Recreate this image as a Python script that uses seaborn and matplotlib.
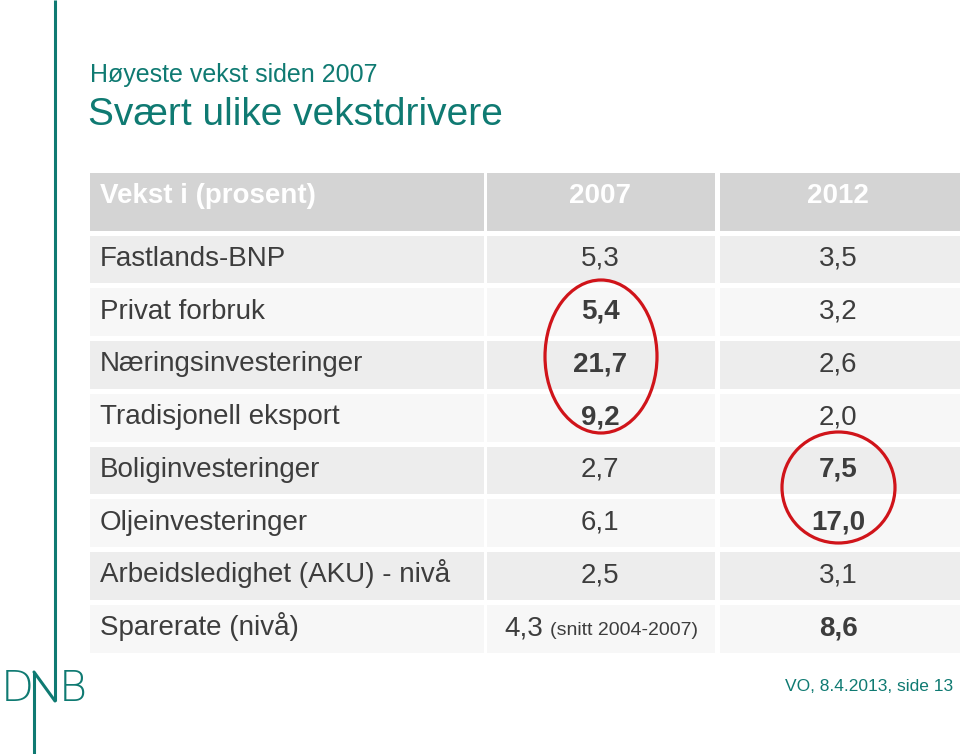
import numpy as np
import matplotlib
matplotlib.use("Agg")
import matplotlib.pyplot as plt
from matplotlib.colors import ListedColormap
from matplotlib.patches import Ellipse
import seaborn as sns

# table content
header = ["Vekst i (prosent)", "2007", "2012"]
categories = ["Fastlands-BNP", "Privat forbruk", "Næringsinvesteringer",
              "Tradisjonell eksport", "Boliginvesteringer", "Oljeinvesteringer",
              "Arbeidsledighet (AKU) - nivå", "Sparerate (nivå)"]
vals_2007 = [5.3, 5.4, 21.7, 9.2, 2.7, 6.1, 2.5, 4.3]
vals_2012 = [3.5, 3.2, 2.6, 2.0, 7.5, 17.0, 3.1, 8.6]
bold_2007 = [False, True, True, True, False, False, False, False]
bold_2012 = [False, False, False, False, True, True, False, True]
note_2007_last = "(snitt 2004-2007)"

subtitle = "Høyeste vekst siden 2007"
title = "Svært ulike vekstdrivere"
footer = "VO, 8.4.2013, side 13"

teal = "#0f7a72"
text_col = "#3d3d3d"
red = "#d0141a"

sns.set_style("white")
plt.rcParams["font.family"] = ["Liberation Sans", "DejaVu Sans"]

W, H = 960, 754
fig = plt.figure(figsize=(9.6, 7.54), dpi=100)


def px_axes(x0, y0, x1, y1):
    return fig.add_axes([x0 / W, 1 - y1 / H, (x1 - x0) / W, (y1 - y0) / H])


def fmt(v):
    return f"{v:.1f}".replace(".", ",")


# column extents (pixels) and row layout
col_edges = [(86.5, 485.5), (484.5, 716.5), (716.5, 972)]
head_top, head_bot = 170.5, 232.5
body_top, row_h = 232.5, 52.75
n = len(categories)
body_bot = body_top + row_h * n

shade = np.array([[i % 2] for i in range(n)], dtype=float)
body_cmap = ListedColormap(["#ededed", "#f7f7f7"])
head_cmap = ListedColormap(["#d4d4d4"])

for x0, x1 in col_edges:
    axh = px_axes(x0, head_top, x1, head_bot)
    sns.heatmap(np.zeros((1, 1)), ax=axh, cmap=head_cmap, cbar=False,
                linewidths=2.2, linecolor="white", xticklabels=False,
                yticklabels=False, vmin=0, vmax=1)
    axh.axis("off")
    axb = px_axes(x0, body_top, x1, body_bot)
    sns.heatmap(shade, ax=axb, cmap=body_cmap, cbar=False,
                linewidths=2.2, linecolor="white", xticklabels=False,
                yticklabels=False, vmin=0, vmax=1)
    axb.axis("off")

# overlay axis in pixel coordinates
ax = fig.add_axes([0, 0, 1, 1])
ax.set_xlim(0, W)
ax.set_ylim(H, 0)
ax.axis("off")
ax.patch.set_alpha(0)

# titles
ax.text(90, 82, subtitle, fontsize=18, color=teal, va="baseline")
ax.text(88, 125, title, fontsize=28, color=teal, va="baseline")

# header text
c2, c3 = 600, 838
ax.text(100, 203, header[0], fontsize=20, color="white", weight="bold", va="baseline")
ax.text(c2, 203, header[1], fontsize=20, color="white", weight="bold", va="baseline", ha="center")
ax.text(c3, 203, header[2], fontsize=20, color="white", weight="bold", va="baseline", ha="center")

# body text
for i, cat in enumerate(categories):
    yb = body_top + row_h * (i + 0.5) + 7
    ax.text(100, yb, cat, fontsize=20, color=text_col, va="baseline")
    if i == n - 1:
        ax.text(543, yb, fmt(vals_2007[i]), fontsize=20, color=text_col,
                va="baseline", ha="right",
                weight="bold" if bold_2007[i] else "normal")
        ax.text(550, yb, note_2007_last, fontsize=14, color=text_col,
                va="baseline", ha="left")
    else:
        ax.text(c2, yb, fmt(vals_2007[i]), fontsize=20, color=text_col,
                va="baseline", ha="center",
                weight="bold" if bold_2007[i] else "normal")
    ax.text(c3, yb, fmt(vals_2012[i]), fontsize=20, color=text_col,
            va="baseline", ha="center",
            weight="bold" if bold_2012[i] else "normal")

# red highlight ellipses
ax.add_patch(Ellipse((601, 356.5), 112, 153, fill=False, edgecolor=red, lw=2.3))
ax.add_patch(Ellipse((838.5, 487.5), 113, 111, fill=False, edgecolor=red, lw=2.3))

# left rule and DNB logo
ax.plot([55, 55], [0, 701], color=teal, lw=2.2, solid_capstyle="butt")
ax.plot([34, 34], [672, H], color=teal, lw=2.2, solid_capstyle="butt")
ax.plot([34, 55], [672, 701], color=teal, lw=2.2)
ax.text(1, 701, "D", fontsize=31, color=teal, va="baseline",
        family=["DejaVu Sans"], weight="light")
ax.text(59, 701, "B", fontsize=31, color=teal, va="baseline",
        family=["DejaVu Sans"], weight="light")

# footer
ax.text(953, 691, footer, fontsize=12.5, color=teal, va="baseline", ha="right")

fig.savefig("out.png", dpi=100)
